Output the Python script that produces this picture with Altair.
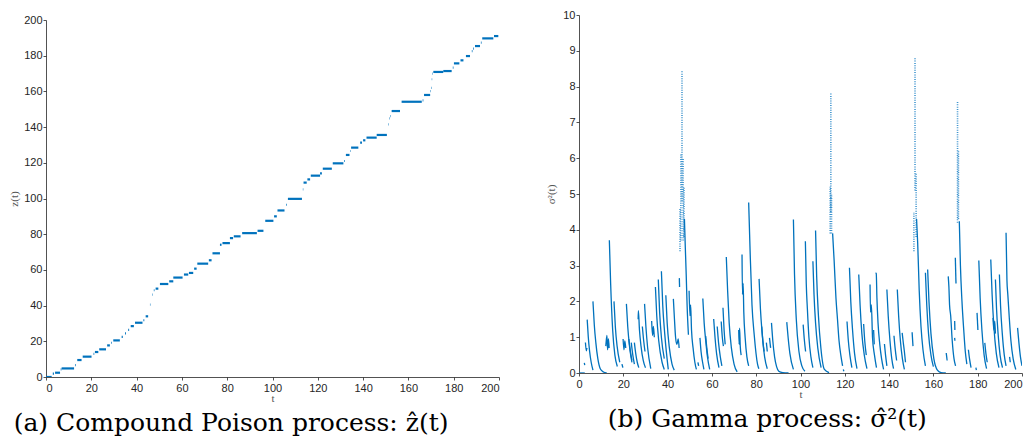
import altair as alt
import pandas as pd

# ---------------- (a) compound Poisson process: flat pieces (start, end, level)
STEP_T0 = [0.0, 3.0, 4.0, 6.5, 6.9, 12.8, 13.8, 16.2, 21.0, 21.6, 23.5, 27.0, 28.8, 29.7,
           33.4, 34.9, 36.3, 37.4, 39.3, 43.0, 44.0, 45.9, 46.9, 47.6, 48.4, 50.3, 54.4,
           56.2, 60.9, 63.1, 65.4, 66.8, 71.9, 73.5, 76.8, 77.9, 81.2, 82.9, 86.6, 93.4,
           96.8, 100.7, 102.2, 106.0, 106.8, 113.4, 113.7, 115.4, 116.9, 121.0, 122.2,
           126.6, 131.6, 132.4, 134.3, 134.7, 138.7, 140.0, 141.5, 146.0, 151.2, 151.6,
           151.9, 152.6, 157.0, 166.3, 166.9, 169.7, 170.0, 170.3, 170.6, 171.0, 175.4,
           179.6, 180.1, 183.0, 185.4, 188.0, 188.6, 189.4, 192.0, 192.6, 197.8]
STEP_T1 = [2.5, 3.5, 6.2, 6.8, 12.4, 13.1, 15.7, 20.1, 21.3, 23.1, 26.5, 28.2, 29.1, 32.6,
           33.9, 35.3, 36.7, 38.8, 42.6, 43.4, 45.1, 46.1, 47.1, 47.9, 49.6, 54.0, 56.2,
           60.3, 62.8, 65.0, 66.5, 71.6, 73.1, 76.8, 77.5, 81.2, 82.6, 85.9, 93.1, 96.0,
           100.4, 101.9, 105.3, 106.3, 113.0, 113.6, 115.1, 116.6, 121.0, 121.8, 126.2,
           131.3, 131.9, 134.0, 134.5, 137.9, 139.5, 141.0, 146.0, 150.5, 151.4, 151.8,
           152.1, 156.3, 165.9, 166.6, 169.6, 169.9, 170.2, 170.5, 170.8, 175.4, 179.1,
           179.9, 182.5, 184.3, 187.2, 188.3, 188.9, 191.6, 192.3, 197.5, 199.7]
STEP_Z = [0.0, 1.9, 2.4, 4.3, 4.8, 6.7, 9.5, 11.4, 13.0, 14.0, 15.5, 17.7, 19.2, 20.5,
          22.5, 24.4, 26.4, 28.5, 30.4, 31.8, 34.0, 40.6, 46.2, 48.6, 49.5, 52.1, 53.6,
          55.7, 57.4, 58.3, 60.7, 63.5, 65.4, 69.3, 74.1, 75.0, 77.8, 78.8, 80.6, 81.9,
          87.5, 90.0, 93.3, 96.5, 99.8, 105.1, 108.9, 110.7, 112.8, 114.1, 116.7,
          119.7, 121.0, 124.4, 126.6, 128.5, 131.3, 132.6, 134.1, 135.6, 141.5, 144.9,
          146.2, 149.0, 154.2, 155.0, 158.0, 160.2, 162.0, 166.8, 170.0, 170.9, 171.4,
          173.3, 175.7, 177.4, 179.8, 182.6, 184.0, 185.4, 187.3, 189.7, 191.0]

# ---------------- (b) gamma process: decaying pieces, each a list of (t, value)
GAMMA_SEGMENTS = [
    [(0.0, 0.0), (2.6, 0.0)],
    [(2.4, 0.28), (2.6, 0.22)],
    [(2.9, 0.85), (3.3, 0.62), (3.6, 0.7)],
    [(3.7, 1.49), (4.2, 1.0), (4.8, 0.6), (5.5, 0.3), (6.3, 0.08)],
    [(6.3, 2.0), (6.9, 1.35), (7.6, 0.85), (8.5, 0.4), (9.6, 0.12), (11.0, 0.03), (12.5, 0.0)],
    [(12.1, 0.75), (12.6, 1.05), (12.9, 0.65), (13.3, 0.95), (13.6, 0.7)],
    [(13.7, 3.71), (14.3, 2.47), (15.2, 1.2), (16.2, 0.5), (17.3, 0.18)],
    [(15.8, 2.0), (16.4, 1.3), (17.2, 0.75), (18.4, 0.3)],
    [(19.4, 0.25), (19.8, 0.15)],
    [(19.9, 0.95), (20.3, 0.65), (20.7, 0.9), (21.1, 0.7)],
    [(21.4, 1.93), (22.0, 1.3), (22.8, 0.75), (23.9, 0.3)],
    [(22.5, 0.95), (23.2, 0.6), (23.9, 0.35)],
    [(23.6, 0.85), (24.3, 0.5), (25.0, 0.25)],
    [(25.0, 0.85), (25.6, 0.55), (26.3, 0.3), (27.0, 0.15)],
    [(26.7, 1.5), (26.8, 1.74), (27.3, 1.2), (28.0, 0.75), (29.0, 0.35), (30.0, 0.15)],
    [(28.6, 1.3), (29.2, 0.9), (29.8, 0.6)],
    [(29.6, 1.93), (30.2, 1.3), (31.0, 0.7), (32.4, 0.12)],
    [(32.8, 1.45), (33.2, 1.05), (33.6, 1.3), (34.0, 1.0)],
    [(34.5, 2.4), (35.1, 1.6), (36.0, 0.9), (37.5, 0.3), (38.5, 0.1)],
    [(35.8, 2.61), (36.4, 1.7), (37.2, 1.0), (38.5, 0.4)],
    [(37.2, 2.84), (37.8, 1.9), (38.7, 1.1), (40.3, 0.1)],
    [(39.2, 2.17), (39.8, 1.4), (40.8, 0.7), (42.0, 0.25), (43.0, 0.08)],
    [(42.6, 2.07), (43.1, 1.5), (43.6, 1.0), (44.2, 0.8), (44.8, 0.95), (45.2, 0.7)],
    [(45.3, 2.65), (45.4, 2.4)],
    [(47.6, 4.3), (48.0, 3.5), (48.4, 2.75), (48.8, 1.9), (49.4, 1.07)],
    [(49.7, 2.3), (50.1, 1.6), (50.4, 1.9), (50.8, 1.2), (51.5, 0.7), (52.3, 0.3), (53.0, 0.1)],
    [(53.7, 0.3), (54.0, 0.2)],
    [(54.6, 0.98), (55.1, 0.6), (55.8, 0.3), (56.4, 0.1)],
    [(55.9, 2.08), (56.5, 1.4), (57.3, 0.85), (58.0, 0.45), (59.0, 0.1)],
    [(57.2, 1.03), (57.7, 0.7), (58.3, 0.4)],
    [(60.8, 1.51), (61.4, 1.0), (62.1, 0.55), (63.2, 0.15)],
    [(62.4, 1.3), (63.0, 0.85), (63.8, 0.45), (64.5, 0.2)],
    [(64.2, 1.44), (64.7, 1.0), (65.2, 0.75)],
    [(65.0, 1.82), (65.5, 1.2), (66.0, 0.8)],
    [(66.5, 3.24), (67.1, 2.3), (67.8, 1.4), (68.8, 0.7), (70.0, 0.25), (71.4, 0.03)],
    [(72.1, 1.2), (72.3, 0.8), (72.5, 1.25), (72.8, 0.75), (73.2, 0.5)],
    [(73.6, 3.31), (73.8, 2.2), (74.1, 2.5), (74.4, 1.7), (75.0, 1.0), (75.8, 0.45), (76.6, 0.2)],
    [(76.6, 4.76), (77.3, 3.3), (78.1, 1.9), (79.1, 1.07), (80.6, 0.25), (81.2, 0.12)],
    [(81.3, 2.63), (81.9, 1.8), (82.7, 1.1), (83.8, 0.45), (85.0, 0.12)],
    [(82.5, 1.3), (83.0, 0.9), (83.6, 0.6)],
    [(84.6, 0.85), (85.0, 0.6)],
    [(86.0, 0.98), (86.5, 0.7)],
    [(86.9, 1.4), (87.5, 0.9), (88.3, 0.45), (89.2, 0.18), (90.2, 0.05), (92.0, 0.01), (94.6, 0.0)],
    [(93.8, 1.42), (94.4, 1.0), (95.2, 0.55), (96.8, 0.1)],
    [(96.8, 4.29), (97.3, 2.75), (98.1, 1.5), (99.3, 0.6), (100.6, 0.2), (102.0, 0.05)],
    [(101.2, 1.35), (101.7, 0.95), (102.3, 0.6)],
    [(102.2, 3.68), (102.6, 2.5), (103.1, 1.8), (103.8, 1.0), (104.7, 0.45), (105.6, 0.15)],
    [(105.6, 3.12), (106.1, 2.2), (106.8, 1.4), (107.8, 0.7), (109.3, 0.15)],
    [(106.8, 3.98), (107.3, 2.7), (108.1, 1.6), (109.2, 0.7), (110.8, 0.1), (112.9, 0.01)],
    [(114.5, 3.9), (115.2, 3.12), (116.0, 2.1), (116.7, 1.5), (117.4, 0.9), (118.2, 0.5), (119.0, 0.2)],
    [(119.3, 0.1), (119.6, 0.05)],
    [(121.0, 1.44), (121.6, 0.9), (122.3, 0.5), (123.2, 0.15)],
    [(122.1, 2.94), (122.7, 2.0), (123.5, 1.2), (124.4, 0.55), (125.5, 0.12)],
    [(126.3, 2.75), (126.9, 1.9), (127.7, 1.1), (128.8, 0.5), (130.0, 0.12)],
    [(128.5, 1.37), (129.0, 0.9), (129.7, 0.5)],
    [(131.4, 2.47), (131.6, 1.7), (132.0, 1.9), (132.5, 1.0), (133.4, 0.5), (134.3, 0.15)],
    [(133.0, 1.2), (133.3, 0.8)],
    [(133.9, 2.8), (134.2, 2.78), (134.5, 2.1), (135.0, 1.4), (135.8, 0.8), (136.6, 0.4), (137.5, 0.1)],
    [(137.9, 0.81), (138.4, 0.5), (139.0, 0.2)],
    [(139.0, 2.33), (139.6, 1.6), (140.4, 0.9), (141.2, 0.4), (142.0, 0.12)],
    [(142.2, 1.04), (142.7, 0.7), (143.4, 0.35)],
    [(143.7, 2.33), (144.3, 1.6), (145.1, 0.9), (146.0, 0.4), (146.9, 0.1)],
    [(145.9, 1.12), (146.4, 0.85), (146.9, 0.6), (147.4, 0.3)],
    [(150.4, 1.14), (150.8, 0.75)],
    [(152.4, 4.3), (152.9, 3.64), (153.6, 2.3), (154.4, 1.3), (155.3, 0.65), (156.4, 0.2)],
    [(156.4, 2.8), (157.0, 1.9), (157.8, 1.1), (158.9, 0.5), (160.0, 0.18)],
    [(157.4, 2.89), (158.0, 2.0), (158.9, 1.1), (160.2, 0.4), (161.8, 0.08), (163.5, 0.01), (165.6, 0.0)],
    [(165.8, 0.56), (166.2, 0.35)],
    [(166.7, 2.7), (167.0, 2.4), (167.3, 1.9), (167.8, 1.6), (168.5, 0.9), (169.3, 0.4), (170.0, 0.2)],
    [(169.6, 1.45), (169.7, 1.2)],
    [(169.6, 0.98), (169.7, 0.9)],
    [(169.9, 3.22), (170.2, 2.5)],
    [(171.7, 4.24), (172.2, 3.0), (172.9, 2.0), (173.7, 1.2), (174.4, 0.6), (175.1, 0.25)],
    [(175.8, 0.65), (176.3, 0.4), (177.0, 0.15)],
    [(179.2, 0.15), (179.4, 0.08)],
    [(179.7, 1.68), (180.1, 1.2)],
    [(180.5, 3.14), (181.1, 2.1), (181.9, 1.2), (182.9, 0.5), (184.0, 0.12)],
    [(183.2, 0.84), (183.7, 0.55), (184.3, 0.3)],
    [(185.9, 3.17), (186.5, 2.2), (187.3, 1.3), (188.4, 0.55), (189.6, 0.15)],
    [(186.9, 1.54), (187.3, 1.2), (187.7, 1.45), (188.0, 1.1)],
    [(188.0, 2.61), (188.5, 1.8), (189.2, 1.1), (190.1, 0.5), (191.2, 0.15)],
    [(189.8, 2.75), (190.3, 1.9), (191.1, 1.1), (192.0, 0.5), (192.8, 0.2)],
    [(192.8, 3.92), (193.2, 2.6), (193.6, 2.19), (194.2, 1.6), (195.0, 0.9), (196.0, 0.4), (197.2, 0.1)],
    [(194.4, 0.45), (194.7, 0.3)],
    [(198.0, 1.26), (198.6, 0.85), (199.3, 0.45), (200.0, 0.2)],
]

# vertical dotted columns at the large jumps: time, low, high
JUMP_T = [45.6, 46.0, 46.5, 47.0, 47.4, 113.4, 113.7, 114.0, 151.2, 151.7, 152.2, 170.9, 171.3]
JUMP_LO = [3.4, 3.7, 4.8, 3.7, 3.8, 3.9, 4.5, 3.9, 3.4, 5.1, 3.8, 4.2, 4.3]
JUMP_HI = [4.6, 6.1, 8.44, 6.0, 5.2, 5.2, 7.83, 5.0, 4.5, 8.81, 5.6, 7.6, 6.2]

X_TICKS = list(range(0, 201, 20))
Z_TICKS = list(range(0, 201, 20))
S_TICKS = list(range(0, 11))

CAPTION_A = "(a) Compound Poison process: \u1e91(t)"
CAPTION_B = "(b) Gamma process: \u03c3\u0302\u00b2(t)"

BLUE = "#0072BD"

steps = pd.DataFrame({"t0": STEP_T0, "t1": STEP_T1, "z": STEP_Z})
rows = []
for i, seg in enumerate(GAMMA_SEGMENTS):
    for t, v in seg:
        rows.append({"seg": i, "t": t, "v": v})
gamma = pd.DataFrame(rows)
jumps = pd.DataFrame({"t": JUMP_T, "lo": JUMP_LO, "hi": JUMP_HI})

AX = dict(grid=False, domainColor="#262626", domainWidth=0.8, tickColor="#262626",
          tickWidth=0.8, tickSize=3, labelFont="Liberation Sans", labelFontSize=11,
          labelColor="#262626", labelOverlap=False, titleFont="Liberation Serif",
          titleFontSize=11, titleFontWeight="normal", titleColor="#555555")


def xaxis(flush_last=False):
    extra = {}
    if flush_last:
        extra["labelAlign"] = alt.expr("datum.value == 200 ? 'right' : 'center'")
    return alt.Axis(values=X_TICKS, title="t", labelPadding=2, titlePadding=-1, **extra, **AX)


def caption(text, dx):
    return alt.TitleParams(text, orient="bottom", anchor="start", dx=dx, offset=8,
                           font="DejaVu Serif", fontSize=25, fontWeight="normal",
                           color="#000000")


xs = alt.Scale(domain=[0, 200], nice=False)
ss = alt.Scale(domain=[0, 10], nice=False)
s_axis = alt.Axis(values=S_TICKS, title="\u03c3\u00b2(t)", labelPadding=1, titlePadding=6, **AX)

# left plot area is 5px taller than its axis so that its top sits 5px below the right one
left = alt.Chart(steps).mark_rule(color=BLUE, strokeWidth=2.2, clip=True).encode(
    x=alt.X("t0:Q", scale=xs, axis=xaxis()),
    x2="t1:Q",
    y=alt.Y("z:Q", scale=alt.Scale(domain=[0, 200], nice=False, range=[362, 5]),
            axis=alt.Axis(values=Z_TICKS, title="z(t)", labelPadding=1, titlePadding=4, **AX)),
).properties(width=453, height=362, title=caption(CAPTION_A, 5))

lines = alt.Chart(gamma).mark_line(color=BLUE, strokeWidth=1.3, interpolate="monotone",
                                   clip=True).encode(
    x=alt.X("t:Q", scale=xs, axis=xaxis(True)),
    y=alt.Y("v:Q", scale=ss, axis=s_axis),
    detail="seg:N",
)
cols = alt.Chart(jumps).mark_rule(color=BLUE, strokeWidth=1.6, strokeDash=[1, 1.3],
                                  opacity=0.75, clip=True).encode(
    x=alt.X("t:Q", scale=xs, axis=xaxis(True)),
    y=alt.Y("lo:Q", scale=ss, axis=s_axis),
    y2="hi:Q",
)
right = alt.layer(lines, cols).properties(width=443, height=358,
                                          title=caption(CAPTION_B, 62))

chart = alt.hconcat(left, right, spacing=45).properties(
    padding={"left": 0, "top": 1, "right": 0, "bottom": 0}
).configure_view(stroke=None)

chart.save("out.html", embed_options={"renderer": "svg", "actions": False})
